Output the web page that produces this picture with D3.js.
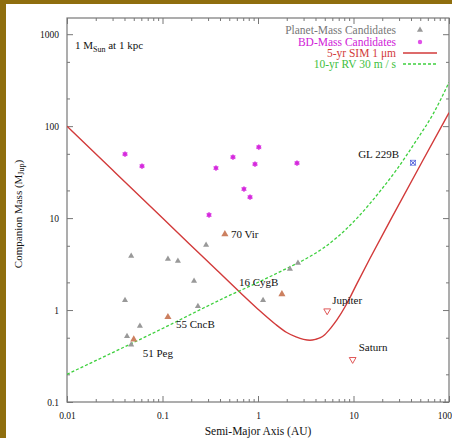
<!DOCTYPE html>
<html><head><meta charset="utf-8">
<script src="https://cdn.jsdelivr.net/npm/d3@7/dist/d3.min.js"></script>
<style>body{margin:0;background:#8f6e0e;}svg{display:block;}</style>
</head><body>
<script>
// ---- data ----
const xTickValues = [0.01, 0.1, 1, 10, 100];
const xTickLabels = ["0.01", "0.1", "1", "10", "100"];
const yTickValues = [0.1, 1, 10, 100, 1000];
const yTickLabels = ["0.1", "1", "10", "100", "1000"];

const planetA = [0.047, 0.114, 0.145, 0.286, 0.214, 0.0405, 0.235, 0.058, 0.0425, 0.047, 1.13, 2.16, 2.62];
const planetM = [3.86, 3.58, 3.41, 5.09, 2.07, 1.28, 1.10, 0.67, 0.52, 0.42, 1.28, 2.79, 3.24];

const knownNames = ["51 Peg", "55 CncB", "70 Vir", "16 CygB"];
const knownA = [0.050, 0.114, 0.45, 1.78];
const knownM = [0.48, 0.84, 6.7, 1.49];

const bdA = [0.0405, 0.061, 0.307, 0.363, 0.547, 0.713, 0.825, 0.93, 1.02, 2.56];
const bdM = [49.6, 36.7, 10.8, 35, 46, 20.7, 16.9, 38.6, 59, 39.6];

const solarNames = ["Jupiter", "Saturn"];
const solarA = [5.3, 9.8];
const solarM = [0.98, 0.29];

const glName = ["GL 229B"];
const glA = [42];
const glM = [40];

const simA = [0.01, 0.03, 0.1, 0.3, 0.65, 1, 1.5, 2, 2.5, 3, 3.5, 4, 4.5, 5, 5.8, 6.7, 8.3, 10.9, 15, 25, 53, 100];
const simM = [100, 33.3, 10, 3.35, 1.55, 1.02, 0.71, 0.57, 0.51, 0.48, 0.47, 0.48, 0.50, 0.54, 0.64, 0.78, 1.12, 1.95, 3.7, 10, 42, 140];

const rvA = [0.01, 0.1, 0.46, 1, 2.16, 3, 4.8, 7, 10.9, 18.9, 28.5, 46, 68, 100];
const rvM = [0.2, 0.63, 1.38, 2.0, 2.95, 3.5, 4.7, 6.4, 10, 19.5, 34, 71, 135, 300];

const legendLabels = ["Planet-Mass Candidates", "BD-Mass Candidates", "5-yr SIM 1 \u03bcm", "10-yr RV 30 m / s"];

// ---- drawing ----
const W = 452, H = 438;
const svg = d3.select("body").append("svg").attr("width", W).attr("height", H);
svg.append("rect").attr("width", W).attr("height", H).attr("fill", "#8f6e0e");
svg.append("rect").attr("x", 6).attr("y", 4).attr("width", W - 6).attr("height", H - 4).attr("fill", "#ffffff");

const pL = 67, pR = 449, pT = 18, pB = 402;
const x = d3.scaleLog().domain([0.01, 100]).range([pL, pR]);
const y = d3.scaleLog().domain([0.1, 1500]).range([pB, pT]);

const serif = "'Liberation Serif', 'DejaVu Serif', serif";
const axisColor = "#777";

function minorTicks(domainLo, domainHi, mults) {
  const out = [];
  for (let d = Math.floor(Math.log10(domainLo)); d <= Math.ceil(Math.log10(domainHi)); d++) {
    for (const m of mults) {
      const v = m * Math.pow(10, d);
      if (v > domainLo && v < domainHi) out.push(v);
    }
  }
  return out;
}
const xMinor = minorTicks(0.01, 100, [2, 3, 4, 5, 6, 7, 8, 9]);
const yMinor = minorTicks(0.1, 1500, [2, 5]);

function styleAxis(g) {
  g.select(".domain").remove();
  g.selectAll(".tick line").attr("stroke", axisColor).attr("stroke-width", 1);
}
// bottom
svg.append("g").attr("transform", `translate(0,${pB})`)
  .call(d3.axisBottom(x).tickValues(xTickValues).tickSize(-6).tickPadding(10)
    .tickFormat((d, i) => xTickLabels[i]))
  .call(styleAxis)
  .call(g => g.selectAll("text").attr("font-family", serif).attr("font-size", 9.5).attr("fill", "#111")
    .attr("text-anchor", (d, i) => i === xTickValues.length - 1 ? "end" : "middle")
    .attr("dx", (d, i) => i === xTickValues.length - 1 ? 2.5 : 0));
svg.append("g").attr("transform", `translate(0,${pB})`)
  .call(d3.axisBottom(x).tickValues(xMinor).tickSize(-3).tickFormat(""))
  .call(styleAxis);
// top
svg.append("g").attr("transform", `translate(0,${pT})`)
  .call(d3.axisTop(x).tickValues(xTickValues).tickSize(-6).tickFormat(""))
  .call(styleAxis);
svg.append("g").attr("transform", `translate(0,${pT})`)
  .call(d3.axisTop(x).tickValues(xMinor).tickSize(-3).tickFormat(""))
  .call(styleAxis);
// left
svg.append("g").attr("transform", `translate(${pL},0)`)
  .call(d3.axisLeft(y).tickValues(yTickValues).tickSize(-6).tickPadding(8)
    .tickFormat((d, i) => yTickLabels[i]))
  .call(styleAxis)
  .call(g => g.selectAll("text").attr("font-family", serif).attr("font-size", 9.5).attr("fill", "#111"));
svg.append("g").attr("transform", `translate(${pL},0)`)
  .call(d3.axisLeft(y).tickValues(yMinor).tickSize(-3).tickFormat(""))
  .call(styleAxis);
// right
svg.append("g").attr("transform", `translate(${pR},0)`)
  .call(d3.axisRight(y).tickValues(yTickValues).tickSize(-6).tickFormat(""))
  .call(styleAxis);
svg.append("g").attr("transform", `translate(${pR},0)`)
  .call(d3.axisRight(y).tickValues(yMinor).tickSize(-3).tickFormat(""))
  .call(styleAxis);

// frame
svg.append("rect").attr("x", pL).attr("y", pT).attr("width", pR - pL).attr("height", pB - pT)
  .attr("fill", "none").attr("stroke", axisColor).attr("stroke-width", 1.2);

// curves
svg.append("clipPath").attr("id", "plotclip").append("rect")
  .attr("x", pL).attr("y", pT).attr("width", pR - pL).attr("height", pB - pT);
const line = d3.line().x(d => x(d[0])).y(d => y(d[1])).curve(d3.curveMonotoneX);
const plot = svg.append("g").attr("clip-path", "url(#plotclip)");
plot.append("path").datum(simA.map((a, i) => [a, simM[i]])).attr("d", line)
  .attr("fill", "none").attr("stroke", "#d23a3a").attr("stroke-width", 1.4);
plot.append("path").datum(rvA.map((a, i) => [a, rvM[i]])).attr("d", line)
  .attr("fill", "none").attr("stroke", "#3ed03e").attr("stroke-width", 1.3).attr("stroke-dasharray", "3,2");

// markers
const tri = d3.symbol().type(d3.symbolTriangle).size(16);
plot.selectAll(".planet").data(planetA.map((a, i) => [a, planetM[i]])).enter().append("path")
  .attr("d", tri).attr("transform", d => `translate(${x(d[0])},${y(d[1])})`).attr("fill", "#999");
plot.selectAll(".known").data(knownA.map((a, i) => [a, knownM[i]])).enter().append("path")
  .attr("d", d3.symbol().type(d3.symbolTriangle).size(22)).attr("transform", d => `translate(${x(d[0])},${y(d[1])})`).attr("fill", "#cc8060");
const bdG = plot.selectAll(".bd").data(bdA.map((a, i) => [a, bdM[i]])).enter().append("g")
  .attr("transform", d => `translate(${x(d[0])},${y(d[1])})`);
bdG.append("circle").attr("r", 2.4).attr("fill", "#e050e8");
bdG.append("path").attr("d", d3.symbol().type(d3.symbolAsterisk).size(22)).attr("stroke", "#d020d8").attr("stroke-width", 0.8).attr("fill", "none");
plot.selectAll(".solar").data(solarA.map((a, i) => [a, solarM[i]])).enter().append("path")
  .attr("d", d3.symbol().type(d3.symbolTriangle).size(20))
  .attr("transform", d => `translate(${x(d[0])},${y(d[1])}) rotate(180)`)
  .attr("fill", "none").attr("stroke", "#e05858").attr("stroke-width", 1);
const glG = plot.selectAll(".gl").data(glA.map((a, i) => [a, glM[i]])).enter().append("g")
  .attr("transform", d => `translate(${x(d[0])},${y(d[1])})`);
glG.append("rect").attr("x", -2.5).attr("y", -2.5).attr("width", 5).attr("height", 5).attr("fill", "none").attr("stroke", "#6a78e0").attr("stroke-width", 0.8);
glG.append("path").attr("d", "M-2.5,-2.5L2.5,2.5M-2.5,2.5L2.5,-2.5").attr("stroke", "#3a48d8").attr("stroke-width", 1);

// labels
function label(text, px, py, dx, dy, anchor) {
  svg.append("text").attr("x", px + dx).attr("y", py + dy).attr("dominant-baseline", "central")
    .attr("text-anchor", anchor || "start").attr("font-family", serif).attr("font-size", 11)
    .attr("fill", "#111").text(text);
}
const knownOff = [[9, 14], [8, 7], [6, 0], [-43, -12]];
knownNames.forEach((n, i) => label(n, x(knownA[i]), y(knownM[i]), knownOff[i][0], knownOff[i][1]));
const solarOff = [[5, -11], [6, -12]];
solarNames.forEach((n, i) => label(n, x(solarA[i]), y(solarM[i]), solarOff[i][0], solarOff[i][1]));
label(glName[0], x(glA[0]), y(glM[0]), -14, -9, "end");

// top-left note
const note = svg.append("text").attr("x", 75).attr("y", 49).attr("font-family", serif).attr("font-size", 11).attr("fill", "#111");
note.append("tspan").text("1 M");
note.append("tspan").attr("font-size", 8).attr("dy", 3).text("Sun");
note.append("tspan").attr("dy", -3).text(" at 1 kpc");

// legend
const legColors = ["#777", "#d020d8", "#d23a3a", "#3ec03e"];
const legY = [30, 42, 53, 64];
legendLabels.forEach((t, i) => {
  svg.append("text").attr("x", 396).attr("y", legY[i]).attr("dominant-baseline", "central")
    .attr("text-anchor", "end").attr("font-family", serif).attr("font-size", 11.5)
    .attr("fill", legColors[i]).text(t);
});
svg.append("path").attr("d", tri).attr("transform", `translate(420,${legY[0]})`).attr("fill", "#999");
svg.append("circle").attr("cx", 420).attr("cy", legY[1]).attr("r", 2.2).attr("fill", "#e050e8");
svg.append("line").attr("x1", 403).attr("x2", 437).attr("y1", legY[2]).attr("y2", legY[2]).attr("stroke", "#d23a3a").attr("stroke-width", 1.4);
svg.append("line").attr("x1", 403).attr("x2", 437).attr("y1", legY[3]).attr("y2", legY[3]).attr("stroke", "#3ed03e").attr("stroke-width", 1.3).attr("stroke-dasharray", "3,2");

// axis titles
svg.append("text").attr("x", 258).attr("y", 431).attr("dominant-baseline", "central")
  .attr("text-anchor", "middle").attr("font-family", serif).attr("font-size", 11.5).attr("fill", "#111")
  .text("Semi-Major Axis (AU)");
const yt = svg.append("text").attr("transform", "translate(18,214) rotate(-90)").attr("dominant-baseline", "central")
  .attr("text-anchor", "middle").attr("font-family", serif).attr("font-size", 11).attr("fill", "#111");
yt.append("tspan").text("Companion Mass (M");
yt.append("tspan").attr("font-size", 8).attr("dy", 3).text("Jup");
yt.append("tspan").attr("dy", -3).text(")");
</script>
</body></html>
